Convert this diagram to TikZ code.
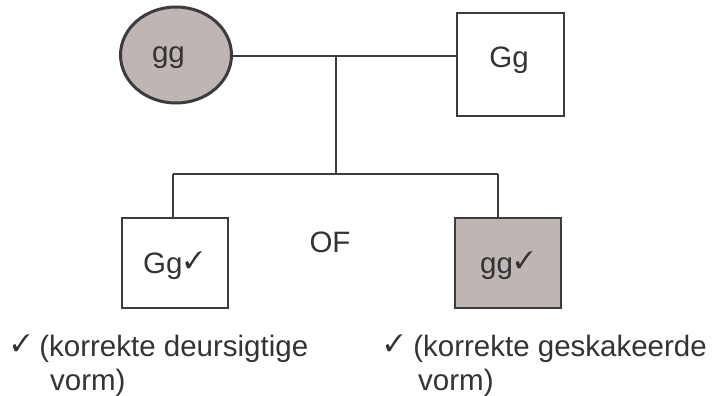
\documentclass[tikz,border=0pt]{standalone}
\usepackage{fontspec}
\usepackage{pifont}
\setmainfont{Liberation Sans}
\usetikzlibrary{shapes.geometric}
\definecolor{shade}{HTML}{BFB5B2}
\definecolor{ink}{HTML}{3C3C3E}
\definecolor{txt}{HTML}{333336}
\newcommand{\chk}{\raisebox{5pt}{\fontsize{24}{24}\selectfont\ding{51}}}
\begin{document}
\begin{tikzpicture}[x=1pt,y=-1pt,
  lbl/.style={inner sep=0pt,text=txt,font=\fontsize{29.5}{34}\selectfont},
  boxnode/.style={draw=ink,line width=1.5pt,rectangle,inner sep=0pt},
  conn/.style={draw=ink,line width=1.5pt}]
\useasboundingbox (0,0) rectangle (716,396);
% parents
\node[ellipse,draw=ink,line width=3pt,fill=shade,inner sep=0pt,
      minimum width=111pt,minimum height=96pt] (mother) at (176,55) {};
\node[boxnode,minimum width=107pt,minimum height=103pt] (father) at (510.5,64.5) {};
% children
\node[boxnode,minimum width=106pt,minimum height=90pt] (child1) at (175,263) {};
\node[boxnode,fill=shade,minimum width=106pt,minimum height=90pt] (child2) at (508,263) {};
% connectors
\coordinate (j1) at (336,56);
\coordinate (j2) at (336,174);
\coordinate (b1) at (173,174);
\coordinate (b2) at (498,174);
\draw[conn] (mother.east |- j1) -- (father.west |- j1);
\draw[conn] (j1) -- (j2);
\draw[conn] (b1) -- (b2);
\draw[conn] (b1) -- (b1 |- child1.north);
\draw[conn] (b2) -- (b2 |- child2.north);
% labels
\node[lbl,anchor=base] (tmother) at (168.5,63) {gg};
\node[lbl,anchor=base] (tfather) at (509,68) {Gg};
\node[lbl,anchor=base west] (tchild1) at (143,273) {Gg\hspace{2pt}\chk};
\node[lbl,anchor=base west] (tchild2) at (480,273) {gg\hspace{2pt}\chk};
\node[lbl,anchor=base] (tof) at (330,252) {OF};
\node[lbl,anchor=base west] (n1a) at (12,356) {\chk\hspace{9pt}(korrekte deursigtige};
\node[lbl,anchor=base west] (n1b) at (50,390) {vorm)};
\node[lbl,anchor=base west] (n2a) at (385,356) {\chk\hspace{10pt}(korrekte geskakeerde};
\node[lbl,anchor=base west] (n2b) at (418,390) {vorm)};
\end{tikzpicture}
\end{document}
